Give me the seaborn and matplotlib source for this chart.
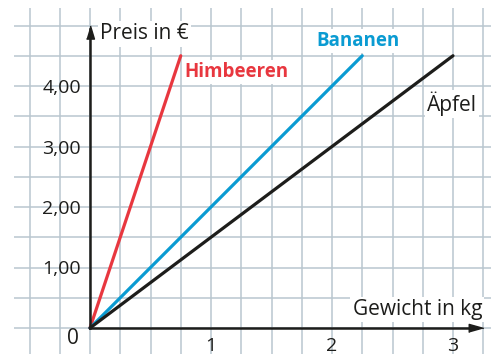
import numpy as np
import pandas as pd
import seaborn as sns
import matplotlib.pyplot as plt

# Preis-Gewicht-Geraden (Start und Ende jeder Strecke)
fruits = ['Himbeeren', 'Bananen', 'Äpfel']
himbeeren_kg = [0, 0.75]
himbeeren_eur = [0, 4.5]
bananen_kg = [0, 2.25]
bananen_eur = [0, 4.5]
aepfel_kg = [0, 3.0]
aepfel_eur = [0, 4.5]

x_ticks = [0.5, 1, 1.5, 2, 2.5, 3]
x_ticklabels = ['', '1', '', '2', '', '3']
y_ticks = [0.5, 1, 1.5, 2, 2.5, 3, 3.5, 4, 4.5]
y_ticklabels = ['', '1,00', '', '2,00', '', '3,00', '', '4,00', '']

COLORS = {'Himbeeren': '#e8373f', 'Bananen': '#0a9bd2', 'Äpfel': '#1d1d1b'}
GRID = '#b9c6cf'
INK = '#1d1d1b'

df = pd.concat([
    pd.DataFrame({'kg': himbeeren_kg, 'eur': himbeeren_eur, 'fruit': 'Himbeeren'}),
    pd.DataFrame({'kg': bananen_kg, 'eur': bananen_eur, 'fruit': 'Bananen'}),
    pd.DataFrame({'kg': aepfel_kg, 'eur': aepfel_eur, 'fruit': 'Äpfel'}),
], ignore_index=True)

sns.set_style('white')
plt.rcParams['font.family'] = ['Open Sans', 'DejaVu Sans']

fig = plt.figure(figsize=(4.93, 3.54), dpi=100)
ax = fig.add_axes([0, 0, 1, 1])

# Karopapier
ax.vlines(np.arange(-0.5, 3.26, 0.25), -0.5, 5.29, color=GRID, lw=1.1, zorder=0)
ax.hlines(np.arange(0, 5.01, 0.5), -0.63, 3.31, color=GRID, lw=1.1, zorder=0)

sns.lineplot(data=df, x='kg', y='eur', hue='fruit', palette=COLORS,
             estimator=None, sort=False, lw=2.3, legend=False, ax=ax, zorder=3)

ax.set_xlim(-90 / 121, 403 / 121)
ax.set_ylim(-26 / 60.5, 328 / 60.5)

for side in ['top', 'right']:
    ax.spines[side].set_visible(False)
ax.spines['left'].set_position(('data', 0))
ax.spines['bottom'].set_position(('data', 0))
ax.spines['left'].set_bounds(0, 4.95)
ax.spines['bottom'].set_bounds(0, 3.2)
for side in ['left', 'bottom']:
    ax.spines[side].set_linewidth(1.8)
    ax.spines[side].set_color(INK)
    ax.spines[side].set_zorder(4)

ax.set_xticks(x_ticks, x_ticklabels)
ax.set_yticks(y_ticks, y_ticklabels)
ax.tick_params(direction='inout', length=10.8, width=1.5, color=INK,
               labelcolor=INK, labelsize=14)
ax.tick_params(axis='x', pad=1)
ax.tick_params(axis='y', pad=1)
ax.set_xlabel('')
ax.set_ylabel('')

# Pfeilspitzen
up = [(-0.3, -0.5), (0.3, -0.5), (0, 0.5)]
right = [(-0.5, -0.28), (-0.5, 0.28), (0.5, 0)]
ax.plot(0, 5.0 - 6.5 / 60.5, marker=up, ms=9.5, color=INK, clip_on=False, zorder=5)
ax.plot(3.25 - 7 / 121, 0, marker=right, ms=10.5, color=INK, clip_on=False, zorder=5)

box = dict(facecolor='white', edgecolor='none', pad=1.5)
ax.text(0.083, 4.86, 'Preis in €', fontsize=15, color=INK, ha='left', va='center', bbox=box)
ax.text(3.24, 0.30, 'Gewicht in kg', fontsize=15, color=INK, ha='right', va='center', bbox=box)
ax.text(-0.14, -0.18, '0', fontsize=15, color=INK, ha='center', va='center')
ax.text(0.777, 4.23, 'Himbeeren', fontsize=13.5, fontweight='bold', color=COLORS['Himbeeren'],
        ha='left', va='center', bbox=box)
ax.text(2.215, 4.74, 'Bananen', fontsize=13.5, fontweight='bold', color=COLORS['Bananen'],
        ha='center', va='center', bbox=box)
ax.text(2.785, 3.70, 'Äpfel', fontsize=15, color=INK, ha='left', va='center', bbox=box)

fig.savefig('out.png', dpi=100)
